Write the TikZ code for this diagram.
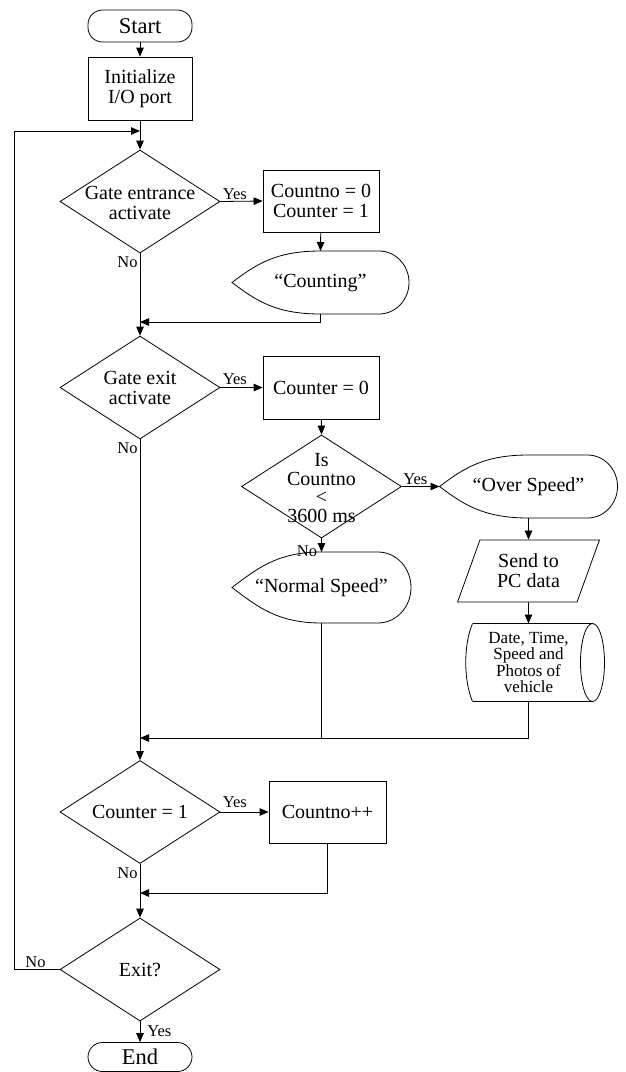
\documentclass[tikz,border=0pt]{standalone}
\usepackage{fontspec}
\setmainfont{Liberation Serif}
\usetikzlibrary{shapes.geometric,arrows.meta,calc}
\newcommand\dispoutline[3]{%
  \draw (#1.west) .. controls ($(#1.west)+(24,-18)$) and ($(#1.north)+(-45,0)$) .. (#1.north)
  -- ($(#1.north east)+({-#2},0)$)
  .. controls ($(#1.north east)+({-0.448*#2},0)$) and ($(#1.east)+(0,{-0.552*#3})$) .. (#1.east)
  .. controls ($(#1.east)+(0,{0.552*#3})$) and ($(#1.south east)+({-0.448*#2},0)$) .. ($(#1.south east)+({-#2},0)$)
  -- (#1.south)
  .. controls ($(#1.south)+(-45,0)$) and ($(#1.west)+(24,18)$) .. (#1.west) -- cycle;}
\begin{document}
\begin{tikzpicture}[x=1pt,y=-1pt,
  line width=0.8pt,
  base/.style={font=\fontsize{20}{20}\selectfont, align=center},
  term/.style={draw, font=\fontsize{22.5}{23}\selectfont, rounded corners=14.5pt, minimum width=104pt, minimum height=32pt, inner sep=0pt},
  proc/.style={base, draw, minimum width=116pt, minimum height=62pt, inner sep=0pt},
  dia/.style={draw, diamond, minimum width=160pt, minimum height=103pt, inner sep=0pt},
  disp/.style={base, minimum width=177pt, minimum height=63pt, inner sep=0pt, outer sep=0pt},
  io/.style={base, draw, trapezium, trapezium left angle=67, trapezium right angle=113, trapezium stretches=true, minimum width=142pt, minimum height=62pt, inner sep=0pt},
  lbl/.style={font=\fontsize{16.5}{17}\selectfont, inner sep=1pt},
  arr/.style={-{Triangle[length=9pt,width=7.5pt]}},
]
\useasboundingbox (0,0) rectangle (626,1072);

% nodes
\node[term] (start) at (140,26) {Start};
\node[proc, minimum width=104pt, minimum height=63pt] (init) at (140,88.5) {Initialize\\I/O port};

\node[dia] (d1) at (140,201.5) {};
\node[base] (d1t) at (140,203) {Gate entrance\\activate};
\node[proc] (b1) at (321,201) {Countno = 0\\Counter = 1};
\node[disp] (cnt) at (320.5,282.5) {“Counting”};
\dispoutline{cnt}{30}{31.5}

\node[dia] (d2) at (140,387.5) {};
\node[base] (d2t) at (140,388) {Gate exit\\activate};
\node[proc, minimum height=63pt] (b2) at (321,387.5) {Counter = 0};

\node[dia] (d3) at (321.5,486.5) {};
\node[base, font=\fontsize{20}{18.7}\selectfont] (d3t) at (321.5,488) {Is\\Countno\\<\\3600 ms};
\node[disp, minimum width=178pt] (over) at (528.5,486.5) {“Over Speed”};
\dispoutline{over}{30}{31.5}
\node[disp, minimum width=179pt, minimum height=71pt] (norm) at (321.5,587.5) {“Normal Speed”};
\dispoutline{norm}{33}{35.5}

\node[io] (pc) at (528.5,571) {Send to\\PC data};
\node[base, font=\fontsize{17}{16.5}\selectfont, minimum width=110pt, minimum height=78pt, inner sep=0pt, outer sep=0pt] (db) at (528.5,662.5) {Date, Time,\\Speed and\\Photos of\\vehicle};
\draw ($(db)+(-56,-39)$) -- ($(db)+(64,-39)$);
\draw ($(db)+(-56,39)$) -- ($(db)+(64,39)$);
\draw ($(db)+(64,0)$) ellipse [x radius=12, y radius=39];
\draw ($(db)+(-56,-39)$) .. controls ($(db)+(-65,-18)$) and ($(db)+(-65,18)$) .. ($(db)+(-56,39)$);

\node[dia] (d4) at (140,812) {};
\node[base] (d4t) at (140,812) {Counter = 1};
\node[proc, minimum width=117pt] (b3) at (327.5,812) {Countno++};

\node[dia] (ex) at (140,969.5) {};
\node[base] (ext) at (140,970) {Exit?};
\node[term, minimum height=29pt] (stop) at (140,1057) {End};

% junctions
\coordinate (lp) at (14,131);
\coordinate (lt) at (140,131);
\coordinate (m1) at (140,322);
\coordinate (m2) at (140,738);
\coordinate (m3) at (140,893);

% connectors
\draw[arr] (start) -- (init);
\draw[arr] (init) -- (d1);
\draw[arr] (ex.west) -| (lp) -- (lt);
\draw[arr] (d1.east) -- (b1.west);
\draw[arr] (b1) -- (cnt.north);
\draw[arr] (cnt.south) |- (m1);
\draw[arr] (d1.south) -- (d2.north);
\draw[arr] (d2.east) -- (b2.west);
\draw[arr] (b2) -- (d3.north);
\draw[arr] (d3.east) -- (over.west);
\draw[arr] (d3.south) -- (norm.north);
\draw[arr] (over.south) -- (pc.north);
\draw[arr] (pc.south) -- (db.north);
\draw[arr] (db.south) |- (m2);
\draw (norm.south) -- (norm.south |- m2);
\draw[arr] (d2.south) -- (d4.north);
\draw[arr] (d4.east) -- (b3.west);
\draw[arr] (b3.south) |- (m3);
\draw[arr] (d4.south) -- (ex.north);
\draw[arr] (ex.south) -- (stop.north);

% labels
\node[lbl, anchor=south west] (y1) at ($(d1.east)+(1,0)$) {Yes};
\node[lbl, anchor=north east] (n1) at ($(d1.south)+(-1,2)$) {No};
\node[lbl, anchor=south west] (y2) at ($(d2.east)+(1,-1)$) {Yes};
\node[lbl, anchor=north east] (n2) at ($(d2.south)+(-1,2)$) {No};
\node[lbl, anchor=south west] (y3) at ($(d3.east)+(0,0)$) {Yes};
\node[lbl, anchor=north east] (n3) at ($(d3.south)+(-3,6)$) {No};
\node[lbl, anchor=south west] (y4) at ($(d4.east)+(1,-3)$) {Yes};
\node[lbl, anchor=north east] (n4) at ($(d4.south)+(-1,2)$) {No};
\node[lbl, anchor=south west] (n5) at ($(ex.west -| lp)+(10,0)$) {No};
\node[lbl, anchor=north west] (y5) at ($(ex.south)+(6,3)$) {Yes};
\end{tikzpicture}
\end{document}
